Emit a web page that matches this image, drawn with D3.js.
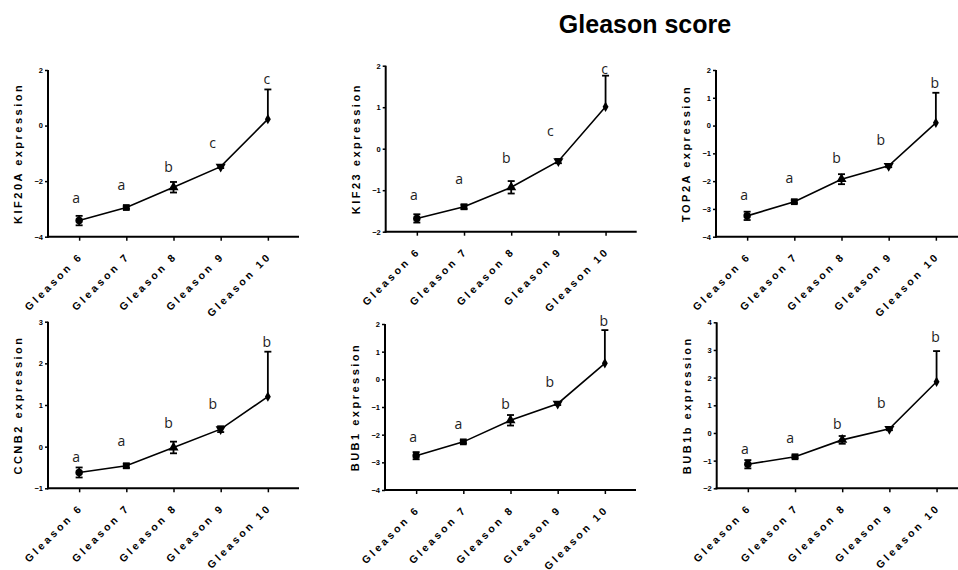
<!DOCTYPE html>
<html>
<head>
<meta charset="utf-8">
<script src="https://cdn.jsdelivr.net/npm/d3@7"></script>
<style>
  html, body { margin: 0; padding: 0; background: #fff; }
  svg { display: block; }
</style>
</head>
<body>
<svg id="chart" width="958" height="570"></svg>
<script>
// Gleason groups shared by every panel
const categories = ["Gleason 6", "Gleason 7", "Gleason 8", "Gleason 9", "Gleason 10"];

// KIF20A
const kif20aMean = [-3.42, -2.95, -2.22, -1.48, 0.23];
const kif20aErrUp = [0.17, 0.05, 0.19, 0.05, 1.07];
const kif20aErrDown = [0.17, 0.05, 0.19, 0.05, 0];
const kif20aLetters = ["a", "a", "b", "c", "c"];
const kif20aLetterY = [-2.60, -2.14, -1.49, -0.63, 1.68];
const kif20aTicks = [-4, -2, 0, 2];

// KIF23
const kif23Mean = [-1.68, -1.40, -0.93, -0.30, 1.01];
const kif23ErrUp = [0.10, 0.05, 0.15, 0.05, 0.75];
const kif23ErrDown = [0.10, 0.05, 0.15, 0.05, 0];
const kif23Letters = ["a", "a", "b", "c", "c"];
const kif23LetterY = [-1.13, -0.73, -0.23, 0.43, 1.92];
const kif23Ticks = [-2, -1, 0, 1, 2];

// TOP2A
const top2aMean = [-3.25, -2.74, -1.93, -1.45, 0.10];
const top2aErrUp = [0.15, 0.05, 0.18, 0.05, 1.08];
const top2aErrDown = [0.15, 0.05, 0.18, 0.05, 0];
const top2aLetters = ["a", "a", "b", "b", "b"];
const top2aLetterY = [-2.52, -1.90, -1.18, -0.52, 1.52];
const top2aTicks = [-4, -3, -2, -1, 0, 1, 2];

// CCNB2
const ccnb2Mean = [-0.62, -0.46, -0.02, 0.42, 1.20];
const ccnb2ErrUp = [0.12, 0.05, 0.14, 0.07, 1.08];
const ccnb2ErrDown = [0.12, 0.05, 0.14, 0.07, 0];
const ccnb2Letters = ["a", "a", "b", "b", "b"];
const ccnb2LetterY = [-0.26, 0.14, 0.56, 1.02, 2.51];
const ccnb2Ticks = [-1, 0, 1, 2, 3];

// BUB1
const bub1Mean = [-2.76, -2.26, -1.48, -0.88, 0.58];
const bub1ErrUp = [0.13, 0.05, 0.19, 0.05, 1.20];
const bub1ErrDown = [0.13, 0.05, 0.19, 0.05, 0];
const bub1Letters = ["a", "a", "b", "b", "b"];
const bub1LetterY = [-2.07, -1.63, -0.90, -0.09, 2.11];
const bub1Ticks = [-4, -3, -2, -1, 0, 1, 2];

// BUB1b
const bub1bMean = [-1.13, -0.86, -0.25, 0.15, 1.85];
const bub1bErrUp = [0.15, 0.05, 0.14, 0.05, 1.11];
const bub1bErrDown = [0.15, 0.05, 0.14, 0.05, 0];
const bub1bLetters = ["a", "a", "b", "b", "b"];
const bub1bLetterY = [-0.58, -0.17, 0.31, 1.07, 3.46];
const bub1bTicks = [-2, -1, 0, 1, 2, 3, 4];

const panels = [
  { label: "KIF20A expression", mean: kif20aMean, up: kif20aErrUp, down: kif20aErrDown, letters: kif20aLetters, letterY: kif20aLetterY, ticks: kif20aTicks,
    frame: { left: 48, top: 70, bottom: 236.7 } },
  { label: "KIF23 expression", mean: kif23Mean, up: kif23ErrUp, down: kif23ErrDown, letters: kif23Letters, letterY: kif23LetterY, ticks: kif23Ticks,
    frame: { left: 385.7, top: 65.7, bottom: 231.7 } },
  { label: "TOP2A expression", mean: top2aMean, up: top2aErrUp, down: top2aErrDown, letters: top2aLetters, letterY: top2aLetterY, ticks: top2aTicks,
    frame: { left: 716, top: 70, bottom: 236.7 } },
  { label: "CCNB2 expression", mean: ccnb2Mean, up: ccnb2ErrUp, down: ccnb2ErrDown, letters: ccnb2Letters, letterY: ccnb2LetterY, ticks: ccnb2Ticks,
    frame: { left: 48, top: 321.7, bottom: 488.3 } },
  { label: "BUB1 expression", mean: bub1Mean, up: bub1ErrUp, down: bub1ErrDown, letters: bub1Letters, letterY: bub1LetterY, ticks: bub1Ticks,
    frame: { left: 385, top: 324, bottom: 490 } },
  { label: "BUB1b expression", mean: bub1bMean, up: bub1bErrUp, down: bub1bErrDown, letters: bub1bLetters, letterY: bub1bLetterY, ticks: bub1bTicks,
    frame: { left: 716.7, top: 322.3, bottom: 488.3 } }
];

const plotWidth = 251;
const markerTypes = [
  { type: d3.symbolCircle, size: 44, rot: 0 },
  { type: d3.symbolSquare, size: 46, rot: 0 },
  { type: d3.symbolTriangle, size: 44, rot: 0 },
  { type: d3.symbolTriangle, size: 44, rot: 180 },
  { type: d3.symbolDiamond, size: 30, rot: 0 }
];
// small horizontal shift of the significance letters, per group
const letterNudge = [-3, -5, -5, -8, -1];
const axisFont = "'Liberation Sans', Arial, sans-serif";

const svg = d3.select("#chart");

svg.append("text")
  .attr("x", 645).attr("y", 33)
  .attr("text-anchor", "middle")
  .attr("font-family", axisFont)
  .attr("font-weight", "bold")
  .attr("font-size", 25)
  .attr("fill", "#000")
  .text("Gleason score");

panels.forEach(p => {
  const f = p.frame;
  const g = svg.append("g");

  const x = d3.scalePoint()
    .domain(categories)
    .range([f.left, f.left + plotWidth])
    .padding(0.66);

  const y = d3.scaleLinear()
    .domain(d3.extent(p.ticks))
    .range([f.bottom, f.top]);

  // y axis
  const yAxis = g.append("g")
    .attr("transform", `translate(${f.left},0)`)
    .call(d3.axisLeft(y).tickValues(p.ticks).tickFormat(d3.format("d")).tickSize(3).tickPadding(2).tickSizeOuter(0));
  yAxis.select(".domain").attr("stroke", "#000").attr("stroke-width", 2)
    .attr("d", `M0,${f.top}V${f.bottom + 1}`);
  yAxis.selectAll(".tick line").attr("stroke", "#000").attr("stroke-width", 1.5);
  yAxis.selectAll(".tick text")
    .attr("font-family", axisFont).attr("font-weight", "bold").attr("font-size", 7.5).attr("fill", "#000");

  // x axis
  const xAxis = g.append("g")
    .attr("transform", `translate(0,${f.bottom})`)
    .call(d3.axisBottom(x).tickSize(4).tickSizeOuter(0));
  xAxis.select(".domain").attr("stroke", "#000").attr("stroke-width", 2)
    .attr("d", `M${f.left - 1},0H${f.left + plotWidth}`);
  xAxis.selectAll(".tick line").attr("stroke", "#000").attr("stroke-width", 1.5);
  xAxis.selectAll(".tick text")
    .attr("font-family", axisFont).attr("font-weight", "bold").attr("font-size", 10.5)
    .attr("letter-spacing", "3px").attr("fill", "#000")
    .attr("text-anchor", "end")
    .attr("y", 0).attr("dy", 0)
    .attr("transform", "translate(4,20) rotate(-45)");

  // y axis title
  g.append("text")
    .attr("transform", `translate(${f.left - 26},${(f.top + f.bottom) / 2}) rotate(-90)`)
    .attr("text-anchor", "middle")
    .attr("font-family", axisFont).attr("font-weight", "bold").attr("font-size", 11)
    .attr("letter-spacing", "2.5px").attr("fill", "#000")
    .text(p.label);

  const rows = categories.map((c, i) => ({ c, i, m: p.mean[i], up: p.up[i], down: p.down[i], L: p.letters[i], ly: p.letterY[i] }));

  // error bars
  const eb = g.append("g").attr("stroke", "#000").attr("stroke-width", 1.8).attr("fill", "none");
  rows.forEach(r => {
    const cx = x(r.c);
    const yTop = y(r.m + r.up), yBot = y(r.m - r.down);
    eb.append("line").attr("x1", cx).attr("x2", cx).attr("y1", yTop).attr("y2", yBot);
    if (r.up > 0) eb.append("line").attr("x1", cx - 3.5).attr("x2", cx + 3.5).attr("y1", yTop).attr("y2", yTop);
    if (r.down > 0) eb.append("line").attr("x1", cx - 3.5).attr("x2", cx + 3.5).attr("y1", yBot).attr("y2", yBot);
  });

  // mean line
  g.append("path")
    .datum(rows)
    .attr("fill", "none").attr("stroke", "#000").attr("stroke-width", 1.6)
    .attr("d", d3.line().x(r => x(r.c)).y(r => y(r.m)));

  // markers
  g.selectAll("path.marker")
    .data(rows).enter().append("path")
    .attr("class", "marker")
    .attr("fill", "#000")
    .attr("d", r => d3.symbol().type(markerTypes[r.i].type).size(markerTypes[r.i].size)())
    .attr("transform", r => `translate(${x(r.c)},${y(r.m)}) rotate(${markerTypes[r.i].rot})`);

  // significance letters
  g.selectAll("text.sig")
    .data(rows).enter().append("text")
    .attr("class", "sig")
    .attr("x", r => x(r.c) + letterNudge[r.i])
    .attr("y", r => y(r.ly))
    .attr("dy", "0.35em")
    .attr("text-anchor", "middle")
    .attr("font-family", "'Open Sans', 'Noto Sans', sans-serif")
    .attr("font-size", 14)
    .attr("fill", "#222")
    .text(r => r.L);
});
</script>
</body>
</html>
